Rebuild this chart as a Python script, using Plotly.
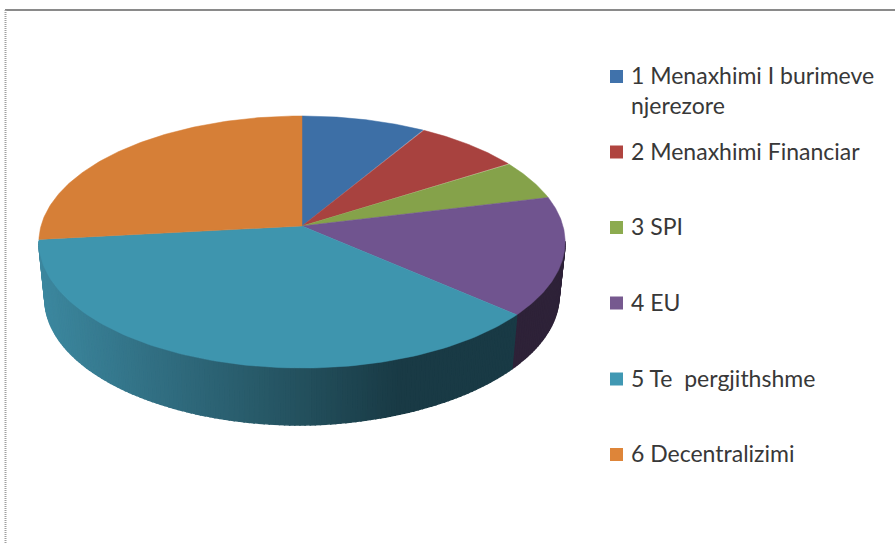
import numpy as np
import plotly.graph_objects as go

categories = ["1 Menaxhimi I burimeve<br>njerezore", "2 Menaxhimi Financiar", "3 SPI",
              "4 EU", "5 Te  pergjithshme", "6 Decentralizimi"]
shares = [8.6, 7.4, 5.2, 15.2, 36.9, 26.7]
top_colors = ["#3d6fa6", "#a8423f", "#85a24a", "#70548f", "#3e95ae", "#d67f37"]
key_colors = ["#4072ab", "#b0443f", "#8cab4f", "#76598f", "#4098b3", "#de8539"]
legend_rows = [76.5, 152, 227.5, 303, 379, 454.5]

W, H = 895, 543
CX, CY, A, B, K = 302, 226, 261.0, 124.0, 0.127
DEPTH, SHRINK = 57, 0.977


def project(theta):
    """Disc angle (clockwise from the back of the pie) to screen position."""
    X, Y = np.sin(theta), np.cos(theta)
    return CX + A * X / (1 + K * Y), CY - B * Y / (1 + K * Y)


def lower(x, y):
    drop = DEPTH - 3 * np.clip(x - CX, 0, None) / 216
    return CX + (x - CX) * SHRINK, y + drop


def wall_colour(x):
    xs = [44, 150, 300, 400, 900]
    rgb = [(60, 135, 158), (50, 112, 132), (36, 81, 94), (25, 58, 69), (25, 58, 69)]
    c = [int(np.interp(x, xs, [v[i] for v in rgb])) for i in range(3)]
    return f"rgb({c[0]},{c[1]},{c[2]})"


fig = go.Figure()
edges = np.concatenate([[0], np.cumsum(shares)]) / np.sum(shares) * 2 * np.pi

# side wall, only the part of the rim that faces the viewer
for i in range(len(shares)):
    lo, hi = max(edges[i], np.radians(97)), min(edges[i + 1], np.radians(263))
    if hi <= lo:
        continue
    cuts = np.linspace(lo, hi, max(2, int((hi - lo) / np.radians(1)) + 1))
    for a0, a1 in zip(cuts[:-1], cuts[1:]):
        ts = np.linspace(a0, a1, 3)
        xt, yt = project(ts)
        xb, yb = lower(xt, yt)
        colour = wall_colour(xt.mean()) if categories[i].startswith("5") else "#2e2238"
        fig.add_trace(go.Scatter(
            x=np.concatenate([xt, xb[::-1], xt[:1]]),
            y=np.concatenate([yt, yb[::-1], yt[:1]]),
            mode="lines", fill="toself", fillcolor=colour,
            line=dict(color=colour, width=1.5), hoverinfo="skip", showlegend=False))

# top face
for i in range(len(shares)):
    ts = np.linspace(edges[i], edges[i + 1], 120)
    xt, yt = project(ts)
    fig.add_trace(go.Scatter(
        x=np.concatenate([[CX], xt, [CX]]), y=np.concatenate([[CY], yt, [CY]]),
        mode="lines", fill="toself", fillcolor=top_colors[i],
        line=dict(color=top_colors[i], width=0.5), hoverinfo="text",
        text=categories[i].replace("<br>", " "), showlegend=False))

# key
fig.add_trace(go.Scatter(
    x=[616.5] * len(categories), y=legend_rows, mode="markers",
    marker=dict(symbol="square", size=13, color=key_colors, line=dict(width=0)),
    hoverinfo="skip", showlegend=False))
annotations = [dict(x=629, y=r - 17.5, xref="x", yref="y", text=c, showarrow=False,
                    xanchor="left", yanchor="top", align="left",
                    font=dict(family="Lato", size=23, color="#383838"))
               for c, r in zip(categories, legend_rows)]

fig.update_layout(
    width=W, height=H, autosize=False, margin=dict(l=0, r=0, t=0, b=0),
    paper_bgcolor="white", plot_bgcolor="white",
    xaxis=dict(range=[0, W], visible=False, fixedrange=True),
    yaxis=dict(range=[H, 0], visible=False, fixedrange=True),
    annotations=annotations,
    shapes=[
        dict(type="line", xref="x", yref="y", x0=5, x1=W, y0=10, y1=10,
             line=dict(color="#8a8a8a", width=2)),
        dict(type="line", xref="x", yref="y", x0=5.5, x1=5.5, y0=10, y1=H,
             line=dict(color="#a0a0a0", width=2, dash="1px,1px")),
    ])
fig.write_html("out.html", config={"displayModeBar": False},
               post_script="document.body.style.margin='0';document.body.style.overflow='hidden';")
